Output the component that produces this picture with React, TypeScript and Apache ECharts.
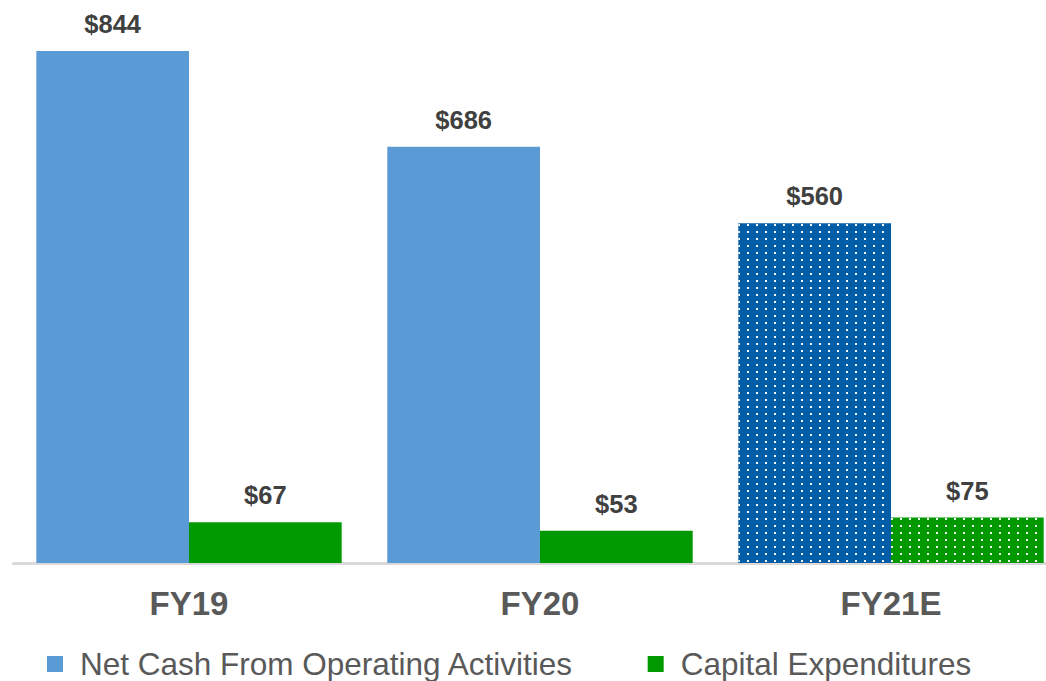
import React, { useEffect, useRef } from "react";
import * as echarts from "echarts";

const categories = ["FY19", "FY20", "FY21E"];
const netCash = [844, 686, 560];
const capex = [67, 53, 75];
const seriesNames = ["Net Cash From Operating Activities", "Capital Expenditures"];

const BLUE = "#5B9BD5";
const DARK_BLUE = "#005DA6";
const GREEN = "#009A00";

const dots = {
  symbol: "rect",
  symbolSize: 1,
  color: "rgba(255,255,255,0.95)",
  dashArrayX: [2, 6.5],
  dashArrayY: [2, 4.3],
  rotation: 0,
};

export default function App() {
  const ref = useRef<HTMLDivElement>(null);
  useEffect(() => {
    const chart = echarts.init(ref.current!, null, { renderer: "svg" });
    const label = {
      show: true,
      position: "top",
      distance: 14,
      formatter: (p: any) => "$" + p.value,
      fontFamily: "Liberation Sans, Arial, sans-serif",
      fontWeight: "bold",
      fontSize: 25.5,
      color: "#404040",
    };
    chart.setOption({
      animation: false,
      grid: { left: 13.5, width: 1053, top: 51, bottom: 118, outerBoundsMode: "none", containLabel: false },
      legend: {
        left: 42,
        top: 643,
        itemWidth: 16,
        itemHeight: 16,
        itemGap: 74,
        icon: "rect",
        textStyle: {
          fontFamily: "Liberation Sans, Arial, sans-serif",
          fontSize: 31.5,
          lineHeight: 32,
          color: "#595959",
          padding: [0, 0, 0, 12],
        },
        data: seriesNames,
      },
      xAxis: {
        type: "category",
        data: categories,
        axisLine: { lineStyle: { color: "#D9D9D9", width: 3 } },
        axisTick: { show: false },
        axisLabel: {
          margin: 24,
          fontFamily: "Liberation Sans, Arial, sans-serif",
          fontWeight: "bold",
          fontSize: 33,
          color: "#595959",
        },
      },
      yAxis: { type: "value", min: 0, max: 844, show: false, splitLine: { show: false } },
      series: [
        {
          name: seriesNames[0],
          type: "bar",
          barGap: "0%",
          barCategoryGap: "13%",
          itemStyle: { color: BLUE },
          label,
          data: netCash.map((v, i) =>
            i === 2 ? { value: v, itemStyle: { color: DARK_BLUE, decal: dots } } : v
          ),
        },
        {
          name: seriesNames[1],
          type: "bar",
          barGap: "0%",
          barCategoryGap: "13%",
          itemStyle: { color: GREEN },
          label,
          data: capex.map((v, i) =>
            i === 2 ? { value: v, itemStyle: { color: GREEN, decal: dots } } : v
          ),
        },
      ],
    });
    return () => chart.dispose();
  }, []);
  return (
    <div
      ref={ref}
      style={{ position: "fixed", left: 0, top: 0, width: 1046, height: 681, background: "#fff" }}
    />
  );
}
